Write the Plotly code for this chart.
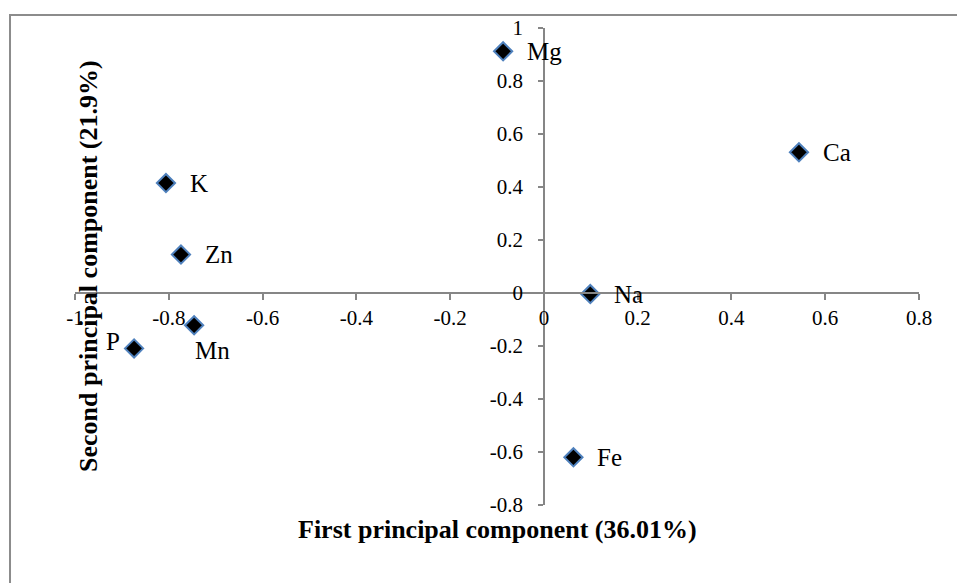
import plotly.graph_objects as go

# ---- data ----
elements = ["Mg", "Ca", "K", "Zn", "Na", "Mn", "P", "Fe"]
pc1 = [-0.087, 0.544, -0.806, -0.774, 0.099, -0.746, -0.874, 0.063]
pc2 = [0.912, 0.531, 0.415, 0.145, -0.004, -0.122, -0.209, -0.620]

x_ticks = [-1, -0.8, -0.6, -0.4, -0.2, 0, 0.2, 0.4, 0.6, 0.8]
x_tick_labels = ["-1", "-0.8", "-0.6", "-0.4", "-0.2", "0", "0.2", "0.4", "0.6", "0.8"]
y_ticks = [-0.8, -0.6, -0.4, -0.2, 0, 0.2, 0.4, 0.6, 0.8, 1]
y_tick_labels = ["-0.8", "-0.6", "-0.4", "-0.2", "0", "0.2", "0.4", "0.6", "0.8", "1"]

x_title = "First principal component (36.01%)"
y_title = "Second principal component (21.9%)"

# ---- styling ----
FONT = "Liberation Serif"
AXIS_COLOR = "#868686"
x_range = [-1, 0.8]
y_range = [-0.8, 1]

# label offsets (px) for each point label: (xshift, yshift, xanchor)
label_style = {
    "Mn": (-1, -25, "left"),
    "P": (-12, 7, "right"),
}
default_label = (22, 0, "left")

fig = go.Figure()
fig.add_trace(go.Scatter(
    x=pc1, y=pc2, mode="markers",
    marker=dict(symbol="diamond", size=14, color="black",
                line=dict(color="#4F81BD", width=2)),
    hoverinfo="text", text=elements, showlegend=False,
))

annotations = []
for name, xv, yv in zip(elements, pc1, pc2):
    xs, ys, xa = label_style.get(name, default_label)
    annotations.append(dict(
        x=xv, y=yv, xref="x", yref="y", text=name, showarrow=False,
        xanchor=xa, yanchor="middle", xshift=xs, yshift=ys,
        font=dict(family=FONT, size=25, color="black"),
    ))

# axis titles
annotations.append(dict(
    x=0.5, y=-0.052, xref="paper", yref="paper", text="<b>" + x_title + "</b>",
    showarrow=False, xanchor="center", yanchor="middle",
    font=dict(family=FONT, size=26, color="black"),
))
annotations.append(dict(
    x=0.016, y=0.5, xref="paper", yref="paper", text="<b>" + y_title + "</b>",
    showarrow=False, xanchor="center", yanchor="middle", textangle=-90,
    font=dict(family=FONT, size=26, color="black"),
))

x0_frac = (0 - y_range[0]) / (y_range[1] - y_range[0])
y0_frac = (0 - x_range[0]) / (x_range[1] - x_range[0])

fig.update_layout(
    width=957, height=583,
    margin=dict(l=74.5, r=38, t=28, b=78),
    paper_bgcolor="white", plot_bgcolor="white",
    font=dict(family=FONT, size=21, color="black"),
    xaxis=dict(
        range=x_range, anchor="free", position=x0_frac,
        tickvals=x_ticks, ticktext=x_tick_labels,
        showgrid=False, zeroline=False, showline=True,
        linecolor=AXIS_COLOR, linewidth=1.5,
        ticks="outside", ticklen=6, tickcolor=AXIS_COLOR, tickwidth=1.5,
        tickfont=dict(family=FONT, size=21, color="black"),
        ticklabelstandoff=0,
    ),
    yaxis=dict(
        range=y_range, anchor="free", position=y0_frac,
        tickvals=y_ticks, ticktext=y_tick_labels,
        showgrid=False, zeroline=False, showline=True,
        linecolor=AXIS_COLOR, linewidth=1.5,
        ticks="outside", ticklen=5, tickcolor=AXIS_COLOR, tickwidth=1.5,
        tickfont=dict(family=FONT, size=21, color="black"),
        ticklabelstandoff=11,
    ),
    annotations=annotations,
    shapes=[dict(
        type="rect", xref="paper", yref="paper",
        x0=-0.077, x1=1.3, y0=-0.5, y1=1.027,
        line=dict(color="#8c8c8c", width=2), fillcolor="rgba(0,0,0,0)",
        layer="below",
    )],
)

fig.write_html("out.html")
